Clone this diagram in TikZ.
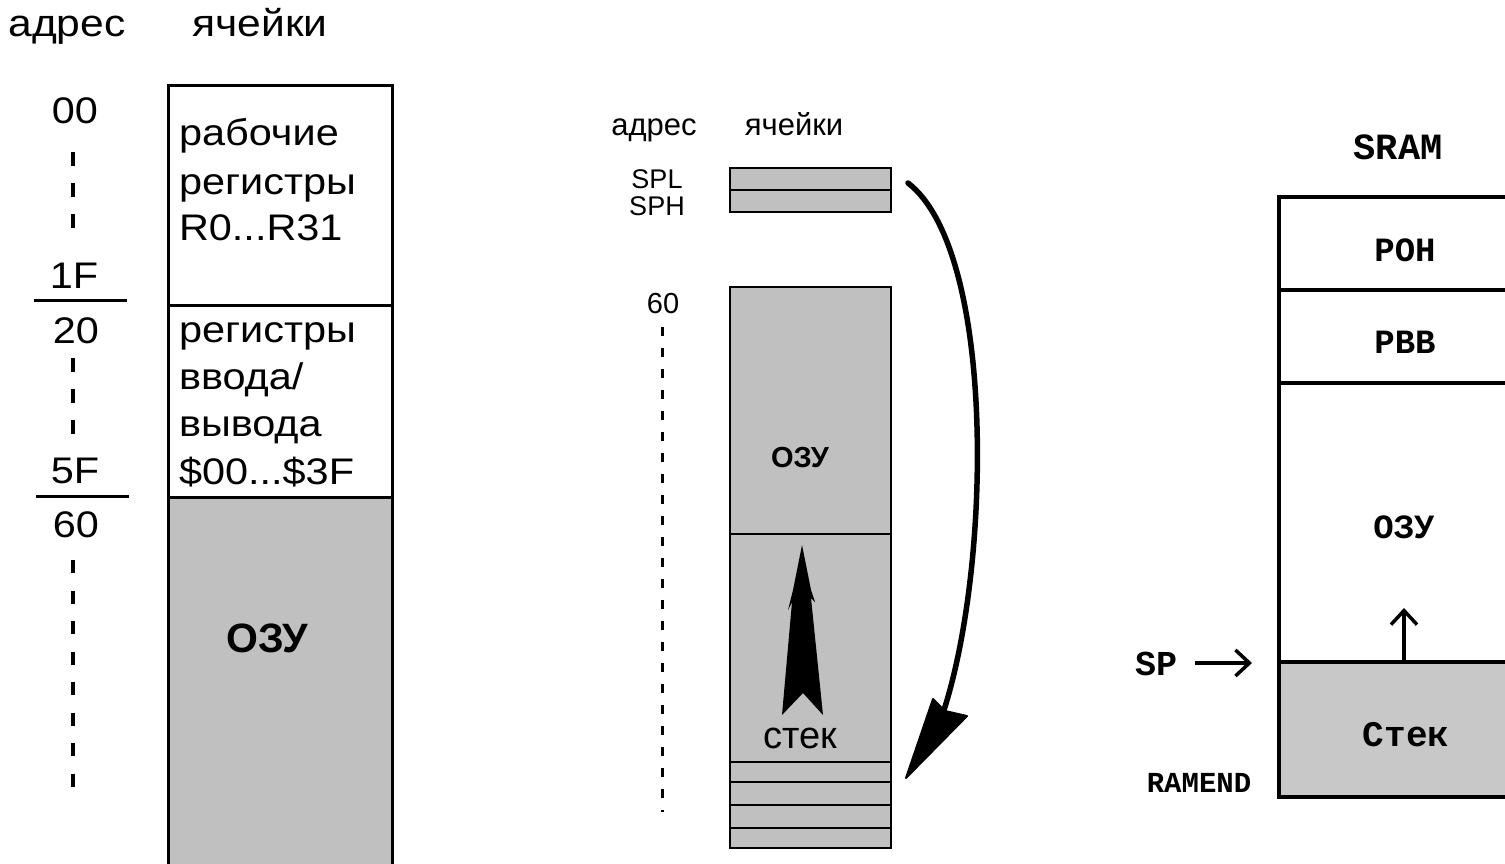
\documentclass[tikz,border=0pt]{standalone}
\usepackage{fontspec}
\setmainfont{Liberation Sans}
\newfontfamily\widefam[FakeStretch=1.12]{Liberation Sans}
\newfontfamily\monofam{Liberation Mono}
\usetikzlibrary{arrows.meta}
\definecolor{cellgray}{HTML}{C0C0C0}
\definecolor{stackgray}{HTML}{C8C8C8}
\newcommand{\fsz}[1]{\fontsize{#1}{#1}\selectfont}
\begin{document}
\begin{tikzpicture}[x=1pt,y=-1pt,
  lbl/.style={inner sep=0pt, outer sep=0pt, anchor=base},
  lblw/.style={inner sep=0pt, outer sep=0pt, anchor=base west},
  ctr/.style={inner sep=0pt, outer sep=0pt, anchor=center},
  bigtxt/.style={font=\widefam\fsz{37}},
  addrtxt/.style={font=\widefam\fsz{37}},
  midtxt/.style={font=\fsz{31}},
  smalltxt/.style={font=\fsz{27}},
  monob/.style={font=\monofam\bfseries\fsz{#1}},
  lineL/.style={line width=3pt},
  lineM/.style={line width=2.5pt},
  lineR/.style={line width=3.8pt},
  dashL/.style={line width=3.5pt, dash pattern=on 14pt off 17pt},
  dashL2/.style={line width=3.5pt, dash pattern=on 13pt off 17.5pt},
  dashM/.style={line width=3pt, dash pattern=on 9pt off 12pt},
  barb/.style={line width=3.5pt, -{Straight Barb[length=14pt,width=26pt]}}
]
\clip (0,0) rectangle (1505,863);
\fill[white] (0,0) rectangle (1505,863);

% ================= LEFT PANEL =================
\node[lbl, font=\widefam\fsz{38}] (adrA) at (67,36) {адрес};
\node[lbl, font=\widefam\fsz{38}] (celA) at (260,36) {ячейки};

\fill[cellgray] (168,497) rectangle (392,880);
\draw[lineL] (168,880) -- (168,85) -- (392,85) -- (392,880);
\draw[lineL] (168,305) -- (392,305);
\draw[lineL] (168,497) -- (392,497);

\node[lblw, bigtxt] (wr1) at (179,145) {рабочие};
\node[lblw, bigtxt] (wr2) at (179,194) {регистры};
\node[lblw, bigtxt] (wr3) at (179,240) {R0...R31};

\node[lblw, bigtxt] (io1) at (179,342) {регистры};
\node[lblw, bigtxt] (io2) at (179,389) {ввода/};
\node[lblw, bigtxt] (io3) at (179,436) {вывода};
\node[lblw, bigtxt] (io4) at (179,484) {\$00...\$3F};

\node[lbl, font=\bfseries\fsz{41}] (ozuA) at (267,652) {ОЗУ};

\node[lbl, addrtxt] (a00) at (75,123) {00};
\node[lbl, addrtxt] (a1F) at (74,288) {1F};
\node[lbl, addrtxt] (a20) at (76,343) {20};
\node[lbl, addrtxt] (a5F) at (75,483) {5F};
\node[lbl, addrtxt] (a60) at (76,537) {60};

\draw[lineL] (34,300) -- (127,300);
\draw[lineL] (36,496) -- (129,496);

\draw[dashL] (73,152) -- (73,230);
\draw[dashL] (73,358) -- (73,436);
\draw[dashL2] (73,560) -- (73,787);

% ================= MIDDLE PANEL =================
\node[lbl, midtxt] (adrB) at (654,135) {адрес};
\node[lbl, midtxt] (celB) at (794,135) {ячейки};
\node[lbl, smalltxt] (spl) at (657,188) {SPL};
\node[lbl, smalltxt] (sph) at (657,215) {SPH};
\node[lbl, font=\fsz{29}] (b60) at (663,313) {60};

\draw[dashM] (662,327) -- (662,812);

\filldraw[fill=cellgray, draw=black, lineM] (730,168) rectangle (891,212);
\draw[lineM] (730,190) -- (891,190);
\coordinate (regsE) at (908,183);

\filldraw[fill=cellgray, draw=black, lineM] (730,287) rectangle (891,848);
\draw[lineM] (730,534) -- (891,534);
\draw[lineM] (730,762) -- (891,762);
\draw[lineM] (730,782) -- (891,782);
\draw[lineM] (730,805) -- (891,805);
\draw[lineM] (730,828) -- (891,828);

\node[ctr, font=\bfseries\fsz{29}] (ozuB) at (800,458) {ОЗУ};
\node[lbl, font=\fsz{38}] (stekB) at (800,748) {стек};

% stack growth arrow
\fill[black] (802,545) -- (811,590) -- (815,602) -- (811,598) -- (823,715)
  -- (803,693) -- (782,715) -- (792,602) -- (788,610) -- (793,590) -- cycle;

% curved arrow with hand-drawn head
\coordinate (headBack) at (944,710);
\coordinate (stkbot) at (906,778);
\draw[line width=5.5pt, line cap=round]
  (regsE) .. controls (995,250) and (992,560) .. (headBack);
\fill[black, line join=round] (stkbot) -- (933,699) -- (945,711) -- (967,716) -- cycle;
\draw[black, line width=2pt, line join=round] (stkbot) -- (933,699) -- (945,711) -- (967,716) -- cycle;

% ================= RIGHT PANEL =================
\node[ctr, monob=37] (sram) at (1398,147) {SRAM};

\fill[stackgray] (1279,662) rectangle (1510,797);
\draw[lineR] (1510,197) -- (1279,197) -- (1279,797) -- (1510,797);
\draw[lineR] (1279,290) -- (1510,290);
\draw[lineR] (1279,383) -- (1510,383);
\draw[lineR] (1279,662) -- (1510,662);

\node[ctr, monob=34] (ron) at (1405,250) {РОН};
\node[ctr, monob=34] (rvv) at (1405,342) {РВВ};
\node[ctr, monob=34] (ozuC) at (1404,527) {ОЗУ};
\node[ctr, monob=36] (stekC) at (1406,735) {Стек};

\node[ctr, monob=35] (sp) at (1156,664) {SP};
\node[ctr, monob=29] (ramend) at (1199,783) {RAMEND};

\coordinate (spTip) at (1252,663);
\draw[barb] (1195,663) -- (spTip);
\coordinate (upBase) at (1404,662);
\coordinate (upTip) at (1404,608);
\draw[barb] (upBase) -- (upTip);
\end{tikzpicture}
\end{document}
